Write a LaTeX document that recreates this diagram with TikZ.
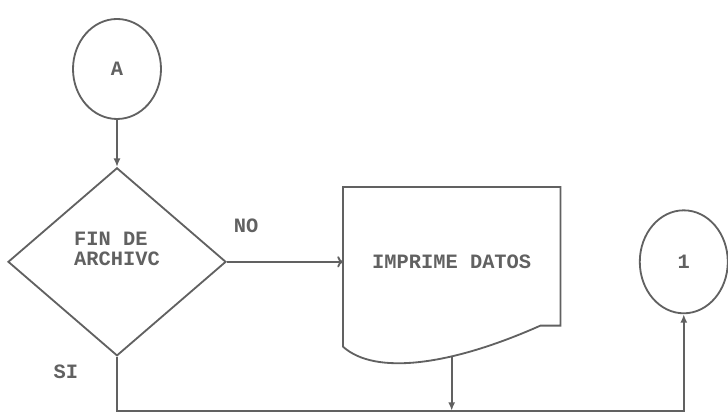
\documentclass[tikz,border=0pt]{standalone}
\usepackage{fontspec}
\setmainfont{Liberation Mono}
\usetikzlibrary{shapes.geometric,arrows.meta,positioning}
\definecolor{tinta}{gray}{0.38}
\tikzstyle{conector} = [ellipse, draw=tinta, line width=1.3pt, minimum width=2.2cm, minimum height=2.5cm, inner sep=0pt]
\tikzstyle{decision} = [diamond, draw=tinta, line width=1.3pt, minimum width=5.45cm, minimum height=4.7cm, inner sep=0pt, align=left, text depth=0.65cm]
\tikzstyle{documento} = [rectangle, minimum width=5.425cm, minimum height=3.725cm, inner sep=0pt]
\tikzstyle{flujo} = [draw=tinta, line width=1.3pt, -{Latex[length=6pt,width=5pt]}]
\tikzstyle{flujoabierto} = [draw=tinta, line width=1.3pt, -{To[length=4pt,width=8pt]}]

\begin{document}
\begin{tikzpicture}[font=\fontsize{14.5pt}{14.5pt}\selectfont\bfseries, text=tinta]
\useasboundingbox (0,0) rectangle (18.2,10.375);

% Top: connector A
\node[conector] (conA) at (2.925,8.65) {A};

% Decision: end of file
\node[decision, below=1.175cm of conA] (finarchivo) {FIN DE\\ARCHIVC};

% Right: print document
\node[documento, right=2.9cm of finarchivo] (imprime) {IMPRIME DATOS};
\draw[draw=tinta, line width=1.3pt] (imprime.north west) -- ([yshift=-0.25cm]imprime.south west)
  .. controls +(0.8,-0.725) and +(-2.25,-1.0) .. ([xshift=-0.5cm,yshift=0.275cm]imprime.south east)
  -- ([yshift=0.275cm]imprime.south east) -- (imprime.north east) -- cycle;
\coordinate (salida) at ([yshift=-0.5cm]imprime.south);

% Far right: connector 1
\node[conector, minimum height=2.575cm, right=1.96cm of imprime] (con1) {1};

% Branch labels
\node[above right=0.61cm and 0.05cm of finarchivo.east] (no) {NO};
\node[below left=0.085cm and 0.85cm of finarchivo.south] (si) {SI};

% Arrows
\draw[flujo] (conA) -- (finarchivo);
\draw[flujoabierto] (finarchivo.east) -- (imprime.west);
\draw[flujo] (finarchivo.south) -- ++(0,-1.35) coordinate (base) -| (con1.south);
\draw[flujo] (salida) -- (salida |- base);

\end{tikzpicture}
\end{document}
